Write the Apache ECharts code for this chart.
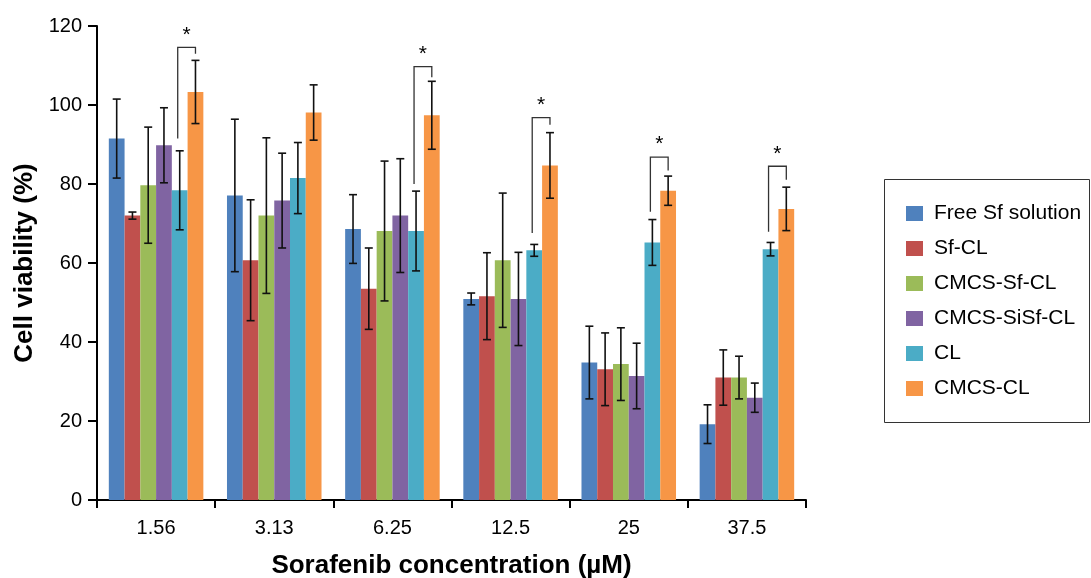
<!DOCTYPE html>
<html>
<head>
<meta charset="utf-8">
<script src="https://cdn.jsdelivr.net/npm/echarts@6/dist/echarts.min.js"></script>
<style>
html,body{margin:0;padding:0;background:#fff;}
#chart{width:1091px;height:578px;}
</style>
</head>
<body>
<div id="chart"></div>
<script>
// ---- data ----
const categories = ['1.56', '3.13', '6.25', '12.5', '25', '37.5'];
const seriesNames = ['Free Sf solution', 'Sf-CL', 'CMCS-Sf-CL', 'CMCS-SiSf-CL', 'CL', 'CMCS-CL'];

const freeSf      = [91.5, 77.1, 68.6, 50.9, 34.8, 19.2];
const freeSfErr   = [10.0, 19.3, 8.7, 1.5, 9.2, 4.9];
const sfCL        = [72.0, 60.7, 53.5, 51.6, 33.1, 31.0];
const sfCLErr     = [0.9, 15.3, 10.3, 11.0, 9.2, 7.0];
const cmcsSfCL    = [79.7, 72.0, 68.1, 60.7, 34.4, 31.0];
const cmcsSfCLErr = [14.7, 19.7, 17.7, 17.0, 9.2, 5.4];
const cmcsSiSfCL    = [89.8, 75.8, 72.0, 50.9, 31.4, 25.9];
const cmcsSiSfCLErr = [9.5, 12.0, 14.4, 11.8, 8.3, 3.7];
const cl          = [78.4, 81.5, 68.1, 63.2, 65.2, 63.5];
const clErr       = [10.0, 9.0, 10.1, 1.5, 5.8, 1.7];
const cmcsCL      = [103.3, 98.1, 97.4, 84.7, 78.3, 73.7];
const cmcsCLErr   = [8.0, 7.0, 8.6, 8.3, 3.7, 5.5];

// significance brackets (CL vs CMCS-CL)
const sigCategory    = [0, 2, 3, 4, 5];
const sigTop         = [114.6, 109.7, 96.8, 86.8, 84.5];
const sigLeftBottom  = [91.5, 80.0, 67.6, 73.0, 67.9];
const sigRightBottom = [113.0, 107.0, 95.0, 83.4, 81.1];

const yTicks = [0, 20, 40, 60, 80, 100, 120];

// ---- build ----
const values = [freeSf, sfCL, cmcsSfCL, cmcsSiSfCL, cl, cmcsCL];
const errors = [freeSfErr, sfCLErr, cmcsSfCLErr, cmcsSiSfCLErr, clErr, cmcsCLErr];
const colors = ['#4F81BD', '#C0504D', '#9BBB59', '#8064A2', '#4BACC6', '#F79646'];
const CAT_GAP = 0.2; // barCategoryGap
const N = values.length;
const FONT = 'Liberation Sans, Arial, Helvetica, sans-serif';

function barOffset(api, sIdx) {
  const band = api.size([1, 0])[0];
  const total = band * (1 - CAT_GAP);
  const bw = total / N;
  return -total / 2 + (sIdx + 0.5) * bw;
}

const series = [];
values.forEach((v, i) => {
  series.push({
    name: seriesNames[i],
    type: 'bar',
    data: v,
    barGap: '0%',
    barCategoryGap: '20%',
    itemStyle: { color: colors[i] },
    silent: true
  });
});

// error bars
const errData = [];
values.forEach((v, s) => v.forEach((val, c) => errData.push([c, val, errors[s][c], s])));
series.push({
  type: 'custom',
  silent: true,
  z: 10,
  data: errData,
  encode: { x: 0, y: 1 },
  renderItem: function (params, api) {
    const c = api.value(0), val = api.value(1), e = api.value(2), s = api.value(3);
    const off = barOffset(api, s);
    const hi = api.coord([c, val + e]);
    const lo = api.coord([c, val - e]);
    const x = hi[0] + off;
    const cap = 4;
    const st = { stroke: '#111', lineWidth: 1.6 };
    return {
      type: 'group',
      children: [
        { type: 'line', shape: { x1: x, y1: hi[1], x2: x, y2: lo[1] }, style: st },
        { type: 'line', shape: { x1: x - cap, y1: hi[1], x2: x + cap, y2: hi[1] }, style: st },
        { type: 'line', shape: { x1: x - cap, y1: lo[1], x2: x + cap, y2: lo[1] }, style: st }
      ]
    };
  }
});

// brackets
const sigData = sigCategory.map((c, i) => [c, sigTop[i], sigLeftBottom[i], sigRightBottom[i]]);
series.push({
  type: 'custom',
  silent: true,
  z: 11,
  data: sigData,
  encode: { x: 0, y: 1 },
  renderItem: function (params, api) {
    const c = api.value(0), top = api.value(1), lb = api.value(2), rb = api.value(3);
    const xl = api.coord([c, 0])[0] + barOffset(api, 4) - 2;
    const xr = api.coord([c, 0])[0] + barOffset(api, 5);
    const yt = api.coord([c, top])[1];
    const yl = api.coord([c, lb])[1];
    const yr = api.coord([c, rb])[1];
    return {
      type: 'group',
      children: [
        { type: 'polyline', shape: { points: [[xl, yl], [xl, yt], [xr, yt], [xr, yr]] },
          style: { stroke: '#333', lineWidth: 1.3, fill: null } },
        { type: 'text', x: (xl + xr) / 2, y: yt - 2,
          style: { text: '*', fontSize: 21, fontFamily: FONT,
                   fill: '#000', align: 'center', verticalAlign: 'bottom' } }
      ]
    };
  }
});

const chart = echarts.init(document.getElementById('chart'));
chart.setOption({
  animation: false,
  backgroundColor: '#fff',
  textStyle: { fontFamily: FONT },
  grid: { left: 97, right: 285, top: 26, bottom: 78, containLabel: false, outerBoundsMode: 'none' },
  xAxis: {
    type: 'category',
    data: categories,
    name: 'Sorafenib concentration (\u00b5M)',
    nameLocation: 'middle',
    nameGap: 53,
    nameTextStyle: { fontSize: 26, fontWeight: 'bold', color: '#000' },
    axisLine: { lineStyle: { color: '#000', width: 2 } },
    axisTick: { show: true, length: 8, lineStyle: { color: '#000', width: 2 } },
    axisLabel: { fontSize: 20, color: '#000', margin: 18 }
  },
  yAxis: {
    type: 'value',
    min: yTicks[0],
    max: yTicks[yTicks.length - 1],
    interval: 20,
    name: 'Cell viability (%)',
    nameLocation: 'middle',
    nameGap: 49,
    nameTextStyle: { fontSize: 26, fontWeight: 'bold', color: '#000' },
    axisLine: { show: true, lineStyle: { color: '#000', width: 2 } },
    axisTick: { show: true, length: 9, lineStyle: { color: '#000', width: 2 } },
    axisLabel: { fontSize: 20, color: '#000', margin: 15 },
    splitLine: { show: false }
  },
  legend: {
    data: seriesNames,
    orient: 'vertical',
    left: 906,
    top: 203,
    itemWidth: 17,
    itemHeight: 15,
    itemGap: 14,
    padding: 0,
    icon: 'rect',
    textStyle: { fontSize: 21, lineHeight: 21, color: '#000', padding: [0, 0, 0, 6] }
  },
  graphic: [{
    type: 'rect',
    shape: { x: 884.5, y: 179.5, width: 205, height: 243 },
    style: { fill: 'none', stroke: '#333', lineWidth: 1 },
    silent: true
  }],
  series: series
});
</script>
</body>
</html>
